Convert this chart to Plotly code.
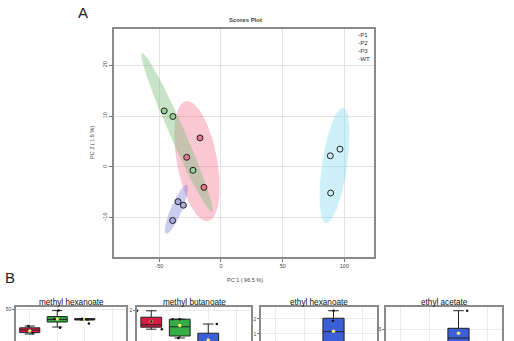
import numpy as np
import plotly.graph_objects as go

W, H = 514, 341

# ---------------- Panel A data (PCA scores) ----------------
groups = ["P1", "P2", "P3", "WT"]
pc1 = {
    "P1": [-17.0, -27.8, -13.8],
    "P2": [-46.0, -39.0, -22.7],
    "P3": [-34.8, -30.5, -39.2],
    "WT": [88.6, 96.4, 88.9],
}
pc2 = {
    "P1": [5.7, 1.9, -4.0],
    "P2": [11.0, 9.9, -0.65],
    "P3": [-6.8, -7.5, -10.5],
    "WT": [2.2, 3.5, -5.1],
}
# confidence ellipses: major-axis end points (data units) and minor/major ratio (screen)
ell_p1 = {"P1": (-28.4, 12.9), "P2": (-64.0, 22.35), "P3": (-27.6, -3.5), "WT": (98.9, 11.6)}
ell_p2 = {"P1": (-10.5, -10.6), "P2": (-7.3, -8.8), "P3": (-44.6, -13.1), "WT": (85.1, -11.0)}
ell_ratio = {"P1": 0.33, "P2": 0.086, "P3": 0.21, "WT": 0.215}

fill_col = {"P1": "rgba(242,110,140,0.38)", "P2": "rgba(110,185,110,0.38)",
            "P3": "rgba(120,120,215,0.38)", "WT": "rgba(125,215,240,0.38)"}
pt_col = {"P1": "rgba(225,120,140,1)", "P2": "rgba(150,205,150,1)",
          "P3": "rgba(170,170,225,1)", "WT": "rgba(205,238,248,1)"}
leg_col = {"P1": "#d98aa0", "P2": "#8cc9a0", "P3": "#a49bc8", "WT": "#9fdcc8"}

# ---------------- Panel B data (box plot stats) ----------------
cmpd_names = ["methyl hexanoate", "methyl butanoate", "ethyl hexanoate", "ethyl acetate"]
box_colors = ["#d81b45", "#33ad44", "#3a5fd6"]
# per compound: list of (group, q1, median, q3, lowerfence, upperfence, mean)
box_stats = [
    [(1, 44.1, 44.75, 45.3, 43.75, 45.75, 44.5),
     (2, 46.75, 47.4, 48.1, 45.5, 49.6, 47.5),
     (3, 47.25, 47.4, 47.6, 47.25, 47.6, 47.45)],
    [(1, 1.57, 1.63, 1.82, 1.52, 1.98, 1.71),
     (2, 1.35, 1.58, 1.77, 1.3, 1.77, 1.61),
     (3, 1.0, 1.2, 1.42, 0.8, 1.65, 1.25)],
    [(3, 0.4, 1.15, 2.05, 0.1, 2.55, 1.18)],
    [(3, 1.0, 3.2, 5.14, 0.5, 8.66, 4.14)],
]
# individual samples: (x position, value)
pts_x = [
    [0.95, 1.1, 1.9, 2.05, 2.1, 2.9, 3.05, 3.15],
    [0.5, 1.0, 1.37, 1.75, 2.0, 1.95, 3.3],
    [3.0, 2.98],
    [3.3],
]
pts_y = [
    [45.75, 44.0, 47.5, 49.6, 45.3, 47.55, 47.45, 46.4],
    [1.98, 1.71, 1.52, 1.77, 1.77, 1.3, 1.65],
    [2.55, 1.89],
    [8.66],
]
box_yranges = [(42.0, 50.5), (1.225, 2.075), (0.53, 2.8), (2.6, 9.4)]
box_ticks = [[40, 50], [1, 2], [1, 2], [5, 10]]

fig = go.Figure()

# ----- Panel A geometry -----
A_x = [114, 374]
A_y = [29, 257]
xr = [-86.7, 124.0]
yr = [-17.65, 27.06]
sx = (A_x[1] - A_x[0]) / (xr[1] - xr[0])
sy = (A_y[1] - A_y[0]) / (yr[1] - yr[0])

t = np.linspace(0, 2 * np.pi, 120)
for g in groups:
    (x1, y1), (x2, y2) = ell_p1[g], ell_p2[g]
    cx, cy = (x1 + x2) / 2, (y1 + y2) / 2
    ax, ay = (x2 - x1) / 2, (y2 - y1) / 2
    px, py = ax * sx, ay * sy
    bx, by = -py * ell_ratio[g] / sx, px * ell_ratio[g] / sy
    ex = cx + ax * np.cos(t) + bx * np.sin(t)
    ey = cy + ay * np.cos(t) + by * np.sin(t)
    fig.add_trace(go.Scatter(x=ex, y=ey, mode="lines", fill="toself",
                             fillcolor=fill_col[g], line=dict(width=0),
                             hoverinfo="skip", showlegend=False, xaxis="x", yaxis="y"))
for g in groups:
    fig.add_trace(go.Scatter(x=pc1[g], y=pc2[g], mode="markers", name=g,
                             marker=dict(size=6, color=pt_col[g],
                                         line=dict(color="#222", width=1)),
                             showlegend=False, xaxis="x", yaxis="y"))


def pxx(v):
    return v / W


def pxy(v):
    return 1 - v / H


def note(text, x, y, size, color="#444", family="Liberation Sans", angle=0, xanchor="center"):
    return dict(text=text, x=pxx(x), y=pxy(y), xref="paper", yref="paper",
                xanchor=xanchor, yanchor="middle", showarrow=False,
                textangle=angle, font=dict(size=size, color=color, family=family))


layout = dict(
    width=W, height=H, margin=dict(l=0, r=0, t=0, b=0),
    paper_bgcolor="white", plot_bgcolor="white", template="none",
    showlegend=False,
    font=dict(family="Liberation Sans", color="#333"),
)
layout["xaxis"] = dict(domain=[pxx(A_x[0]), pxx(A_x[1])], range=xr,
                       tickvals=[-50, 0, 50, 100], ticktext=["-50", "0", "50", "100"],
                       ticks="outside", ticklen=3, tickcolor="#777", tickwidth=1,
                       tickfont=dict(size=5.5, color="#444"),
                       showgrid=True, gridcolor="#e2e2e2", gridwidth=1, zeroline=False,
                       showline=True, linecolor="#8a8a8a", linewidth=1.5, mirror=True,
                       automargin=False, anchor="y")
layout["yaxis"] = dict(domain=[pxy(A_y[1]), pxy(A_y[0])], range=yr,
                       tickvals=[-10, 0, 10, 20], tickangle=-90,
                       ticks="outside", ticklen=3, tickcolor="#777", tickwidth=1,
                       tickfont=dict(size=5.5, color="#444"),
                       showgrid=True, gridcolor="#e2e2e2", gridwidth=1, zeroline=False,
                       showline=True, linecolor="#8a8a8a", linewidth=1.5, mirror=True,
                       automargin=False, anchor="x")

annotations = [
    note("A", 83, 13, 15, "#222"),
    note("B", 10, 277, 15, "#222"),
    note("<b>Scores Plot</b>", 245, 20, 6),
    note("PC 1 ( 96.5 %)", 245, 280, 5.5),
    note("PC 2 ( 1.5 %)", 92, 143, 5.5, angle=-90),
]
# compact legend as one multi-line text
leg_text = "<br>".join(f"<span style='color:{leg_col[g]}'>•</span>{g}" for g in groups)
annotations.append(dict(text=leg_text, x=pxx(356), y=pxy(29), xref="paper", yref="paper",
                        xanchor="left", yanchor="top", align="left", showarrow=False,
                        font=dict(size=6.2, color="#333", family="Liberation Sans")))

# ----- Panel B -----
B_x = [(16, 126), (137, 251), (261, 377), (386, 502)]
B_top = 307
for k in range(4):
    xa = f"x{k + 2}"
    ya = f"y{k + 2}"
    for (grp, q1, med, q3, lf, uf, mn) in box_stats[k]:
        fig.add_trace(go.Box(x=[grp], q1=[q1], median=[med], q3=[q3],
                             lowerfence=[lf], upperfence=[uf], width=0.73,
                             fillcolor=box_colors[grp - 1],
                             line=dict(color="#222", width=1), boxpoints=False,
                             xaxis=xa, yaxis=ya, showlegend=False, hoverinfo="skip"))
        fig.add_trace(go.Scatter(x=[grp], y=[mn], mode="markers",
                                 marker=dict(size=3.5, color="#f5f07a",
                                             line=dict(width=0)),
                                 xaxis=xa, yaxis=ya, showlegend=False))
    fig.add_trace(go.Scatter(x=pts_x[k], y=pts_y[k], mode="markers",
                             marker=dict(size=2.5, color="#111"),
                             xaxis=xa, yaxis=ya, showlegend=False))
    x0, x1 = B_x[k]
    layout[f"xaxis{k + 2}"] = dict(domain=[pxx(x0), pxx(x1)], range=[0.5, 4.5],
                                   side="top", showticklabels=False, ticks="",
                                   tickvals=[1, 2, 3, 4], showgrid=True,
                                   gridcolor="#ececec", gridwidth=1, zeroline=False,
                                   showline=True, linecolor="#8a8a8a", linewidth=1.5,
                                   mirror=False, automargin=False, anchor=ya)
    layout[f"yaxis{k + 2}"] = dict(domain=[0, pxy(B_top)], range=list(box_yranges[k]),
                                   tickvals=box_ticks[k], ticks="outside", ticklen=2,
                                   tickcolor="#777", tickfont=dict(size=5, color="#444"),
                                   showgrid=True, gridcolor="#ececec", gridwidth=1,
                                   zeroline=False, showline=True, linecolor="#8a8a8a",
                                   linewidth=1.5, mirror=True, automargin=False, anchor=xa)
    annotations.append(note(cmpd_names[k], round((x0 + x1) / 2), 302, 8.2, "#111"))

layout["annotations"] = annotations
fig.update_layout(**layout)
fig.write_html("out.html")
